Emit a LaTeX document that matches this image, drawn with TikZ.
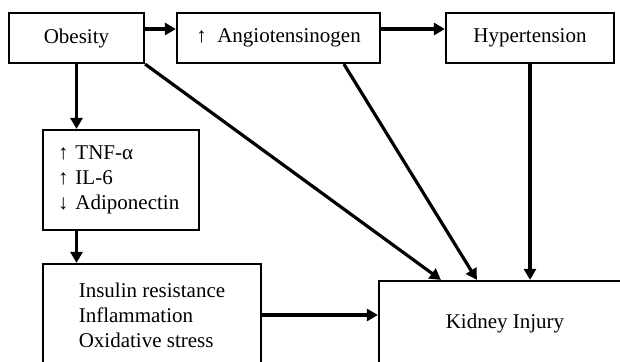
\documentclass[tikz,border=0pt]{standalone}
\usepackage{fontspec}
\setmainfont{Liberation Serif}
\usetikzlibrary{arrows.meta,calc}
\begin{document}
\begin{tikzpicture}[x=1pt,y=-1pt,
  box/.style={draw,line width=2.2pt,rectangle,inner sep=0pt,
    font=\fontsize{21}{25}\selectfont},
  link/.style={line width=3.2pt,-{Triangle[length=11pt,width=12pt]}}]
\useasboundingbox (0,0) rectangle (620,361);
\clip (0,0) rectangle (620,361);
\fill[white] (0,0) rectangle (620,361);

% top row
\node[box,minimum width=135pt,minimum height=50pt] (obesity) at (76.5,38) {Obesity};
\node[box,minimum width=203pt,minimum height=50pt] (angio) at (278.5,38) {↑\ \ Angiotensinogen};
\node[box,minimum width=168pt,minimum height=50pt] (hyper) at (530,38) {Hypertension};

% mediators
\node[box,minimum width=156pt,minimum height=100pt,text width=126pt,
  inner xsep=15pt,align=left] (tnf) at (121,180)
  {↑ TNF-α\\↑ IL-6\\↓ Adiponectin};
\node[box,minimum width=218pt,minimum height=102pt,align=left] (ins) at (152,315)
  {Insulin resistance\\Inflammation\\Oxidative stress};

% outcome
\node[box,minimum width=252pt,minimum height=84pt] (kidney) at (505,323) {Kidney Injury};

% connectors
\draw[link] (obesity.east |- 0,29) -- (angio.west |- 0,29);
\draw[link] (angio.east |- 0,29) -- (hyper.west |- 0,29);
\draw[link] (obesity.south) -- (obesity.south |- tnf.north);
\coordinate (tnfout) at (obesity.south |- tnf.south);
\draw[link] (tnfout) -- (tnfout |- ins.north);
\draw[link] (obesity.south east) -- ($(kidney.north west)+(63,0)$);
\draw[link] ($(angio.south west)+(168,0)$) -- ($(kidney.north west)+(99,0)$);
\draw[link] (hyper.south) -- (hyper.south |- kidney.north);
\draw[link] (ins.east) -- (ins.east -| kidney.west);
\end{tikzpicture}
\end{document}
